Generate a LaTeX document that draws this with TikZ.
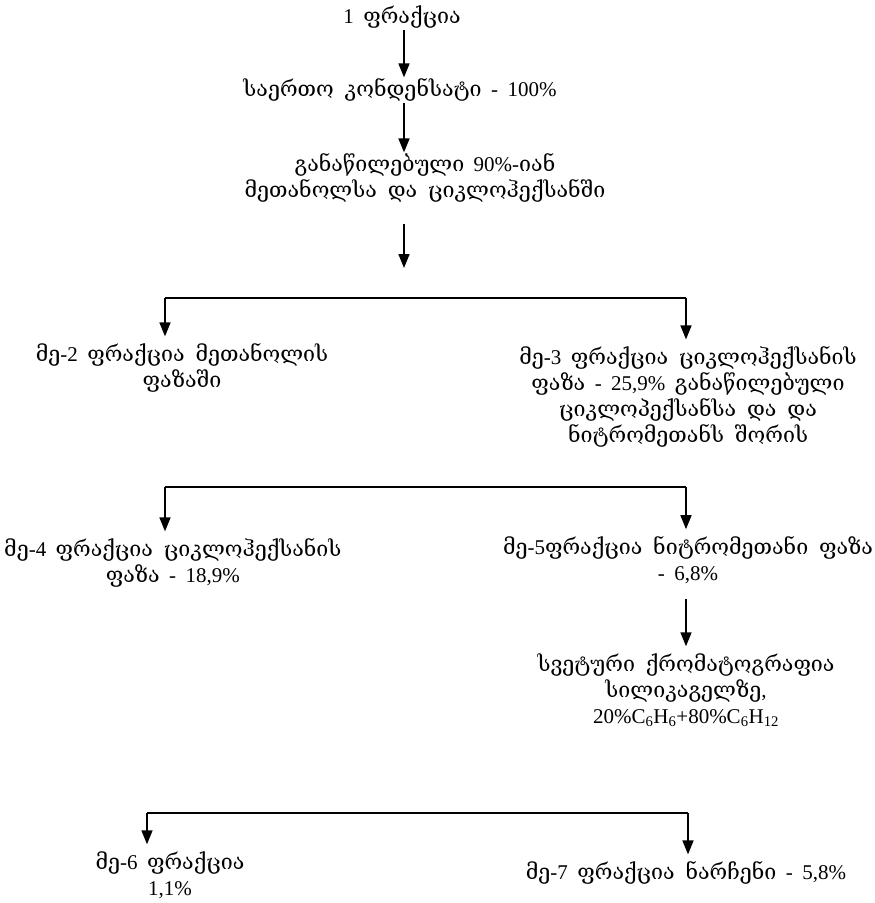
\documentclass[tikz,border=0pt]{standalone}
\usepackage{fontspec}
\setmainfont[WordSpace=1.8]{Liberation Serif}
\newfontfamily\kafont[Scale=1.02,WordSpace=1.6]{DejaVu Serif}
\newcommand{\ka}[1]{{\kafont #1}}
\usetikzlibrary{arrows.meta}

\tikzset{
  lbl/.style={align=center, font=\fontsize{21}{26}\selectfont, inner sep=1pt},
  arr/.style={line width=1.6pt, -{Triangle[length=14pt,width=11pt]}, shorten >=6pt},
  bar/.style={line width=1.6pt},
}

\begin{document}
\begin{tikzpicture}[x=1pt,y=-1pt]
        \useasboundingbox (0,0) rectangle (875,903);
        % main chain
        \node[lbl] (f1) at (402,17) {1 \ka{ფრაქცია}};
        \node[lbl] (total) at (400,90) {\ka{საერთო კონდენსატი} -  100\%};
        \node[lbl] (split) at (425,178) {\ka{განაწილებული} 90\%-\ka{იან}\\\ka{მეთანოლსა და ციკლოჰექსანში}};
        \coordinate (s1) at (404,268);
        \draw[arr,shorten >=0pt] (f1.south -| s1) -- (total.north -| s1);
        \draw[arr,shorten >=0pt] (total.south -| s1) -- (split.north -| s1);
        \draw[arr,shorten >=0pt,shorten <=20pt] (split.south -| s1) -- (s1);
        % first split
        \coordinate (b1l) at (165,298);
        \coordinate (b1r) at (686,298);
        \node[lbl] (f2) at (182,368) {\ka{მე}-2 \ka{ფრაქცია მეთანოლის}\\\ka{ფაზაში}};
        \node[lbl] (f3) at (688,397) {\ka{მე}-3 \ka{ფრაქცია ციკლოჰექსანის}\\\ka{ფაზა} - 25,9\% \ka{განაწილებული}\\\ka{ციკლოპექსანსა და და}\\\ka{ნიტრომეთანს შორის}};
        \draw[bar] (b1l) -- (b1r);
        \draw[arr] (b1l) -- (b1l |- f2.north);
        \draw[arr] (b1r) -- (b1r |- f3.north);
        % second split
        \coordinate (b2l) at (165,487);
        \coordinate (b2r) at (686,487);
        \node[lbl,anchor=west] (f4) at (3,563) {\ka{მე}-4 \ka{ფრაქცია ციკლოჰექსანის}\\\ka{ფაზა} -  18,9\%};
        \node[lbl] (f5) at (688,560) {\ka{მე}-5\ka{ფრაქცია ნიტრომეთანი ფაზა}\\-  6,8\%};
        \draw[bar] (b2l) -- (b2r);
        \draw[arr] (b2l) -- (b2l |- f4.north);
        \draw[arr] (b2r) -- (b2r |- f5.north);
        % column chromatography
        \node[lbl] (chrom) at (686,690) {\ka{სვეტური ქრომატოგრაფია}\\\ka{სილიკაგელზე},\\20\%C\textsubscript{6}H\textsubscript{6}+80\%C\textsubscript{6}H\textsubscript{12}};
        \draw[arr,shorten <=14pt] (f5.south -| b2r) -- (b2r |- chrom.north);
        % last split
        \coordinate (b3l) at (147,813);
        \coordinate (b3r) at (688,813);
        \node[lbl] (f6) at (170,875) {\ka{მე}-6 \ka{ფრაქცია}\\1,1\%};
        \node[lbl] (f7) at (686,873) {\ka{მე}-7 \ka{ფრაქცია ნარჩენი} -  5,8\%};
        \draw[bar] (b3l) -- (b3r);
        \draw[arr] (b3l) -- (b3l |- f6.north);
        \draw[arr] (b3r) -- (b3r |- f7.north);
\end{tikzpicture}
\end{document}
